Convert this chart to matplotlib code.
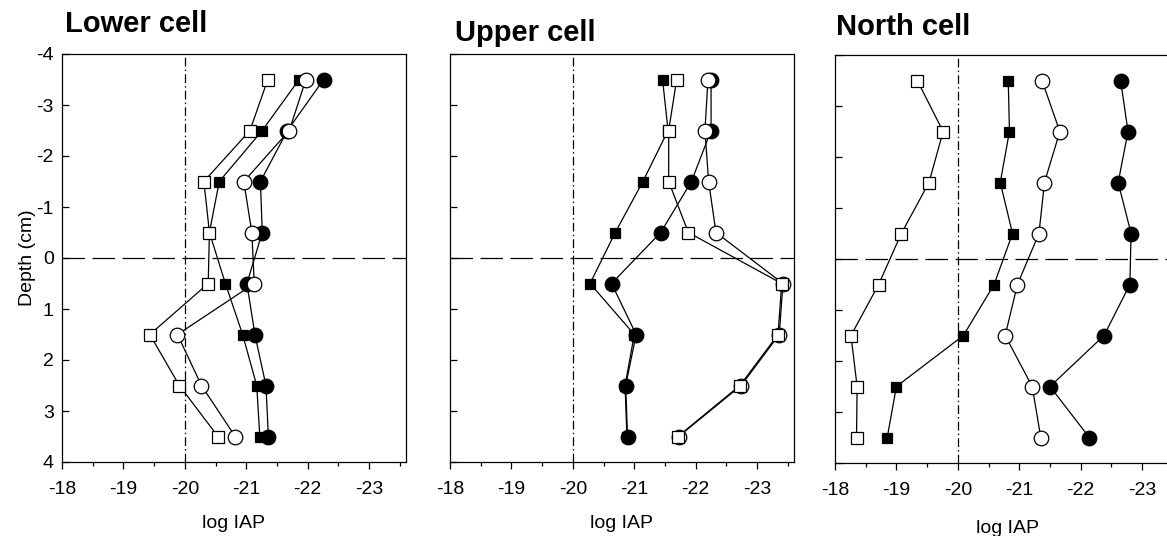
import matplotlib
matplotlib.use("Agg")
import matplotlib.pyplot as plt
from matplotlib.ticker import MultipleLocator

plt.rcParams['font.family'] = ['Liberation Sans', 'DejaVu Sans']
plt.rcParams['axes.unicode_minus'] = False

depth = [-3.5, -2.5, -1.5, -0.5, 0.5, 1.5, 2.5, 3.5]

titles = ["Lower cell", "Upper cell", "North cell"]

# four series per cell: open square, filled square, open circle, filled circle
lower_open_sq = [-21.35, -21.06, -20.31, -20.40, -20.38, -19.43, -19.91, -20.54]
lower_fill_sq = [-21.86, -21.26, -20.56, -20.40, -20.66, -20.94, -21.17, -21.22]
lower_open_ci = [-21.97, -21.70, -20.96, -21.09, -21.13, -19.88, -20.27, -20.82]
lower_fill_ci = [-22.26, -21.67, -21.23, -21.26, -21.01, -21.14, -21.32, -21.36]

upper_open_sq = [-21.69, -21.56, -21.56, -21.88, -23.40, -23.34, -22.72, -21.71]
upper_fill_sq = [-21.46, -21.55, -21.14, -20.69, -20.28, -21.00, -20.85, -20.88]
upper_open_ci = [-22.20, -22.15, -22.21, -22.33, -23.42, -23.36, -22.74, -21.72]
upper_fill_ci = [-22.25, -22.25, -21.93, -21.43, -20.63, -21.03, -20.86, -20.89]

north_open_sq = [-19.34, -19.76, -19.53, -19.08, -18.71, -18.26, -18.36, -18.35]
north_fill_sq = [-20.82, -20.84, -20.69, -20.89, -20.59, -20.09, -19.00, -18.85]
north_open_ci = [-21.37, -21.66, -21.41, -21.32, -20.97, -20.77, -21.21, -21.35]
north_fill_ci = [-22.65, -22.77, -22.61, -22.82, -22.80, -22.38, -21.50, -22.14]

cells = [
    (lower_open_sq, lower_fill_sq, lower_open_ci, lower_fill_ci),
    (upper_open_sq, upper_fill_sq, upper_open_ci, upper_fill_ci),
    (north_open_sq, north_fill_sq, north_open_ci, north_fill_ci),
]

W, H = 1167, 536
fig = plt.figure(figsize=(W / 100, H / 100), dpi=100)

# axes boxes in pixels: left, top, right, bottom
boxes = [(62, 54, 406, 462), (450, 54, 794, 462), (835, 55, 1179, 463)]
title_pos = [(65, 24), (455, 33), (836, 27)]
xlabel_pad = [12, 12, 15]

for i, (cell, box) in enumerate(zip(cells, boxes)):
    l, t, r, b = box
    ax = fig.add_axes([l / W, 1 - b / H, (r - l) / W, (b - t) / H])
    open_sq, fill_sq, open_ci, fill_ci = cell

    ax.axhline(0, color='black', lw=0.9, dashes=(18, 6), zorder=1)
    ax.axvline(-20, color='black', lw=0.9, dashes=(7, 2.5, 1.2, 2.5), zorder=1)

    ax.plot(fill_sq, depth, '-s', color='black', mfc='black', mec='black',
            ms=7.5, lw=0.9, mew=0.9, zorder=2)
    ax.plot(fill_ci, depth, '-o', color='black', mfc='black', mec='black',
            ms=10.5, lw=0.9, mew=0.9, zorder=3)
    ax.plot(open_ci, depth, '-o', color='black', mfc='white', mec='black',
            ms=10.5, lw=0.9, mew=0.9, zorder=4)
    ax.plot(open_sq, depth, '-s', color='black', mfc='white', mec='black',
            ms=8.5, lw=0.9, mew=0.9, zorder=5)

    ax.set_xlim(-18, -23.6)
    ax.set_ylim(4, -4)
    ax.xaxis.set_major_locator(MultipleLocator(1))
    ax.xaxis.set_minor_locator(MultipleLocator(0.5))
    ax.yaxis.set_major_locator(MultipleLocator(1))
    ax.tick_params(axis='x', which='major', direction='out', length=5,
                   width=0.9, labelsize=14, pad=9)
    ax.tick_params(axis='x', which='minor', direction='out', length=3, width=0.9)
    ax.tick_params(axis='y', which='major', direction='in', length=5,
                   width=0.9, labelsize=14, pad=6)
    for s in ax.spines.values():
        s.set_linewidth(0.9)

    ax.set_xlabel("log IAP", fontsize=14, labelpad=xlabel_pad[i])
    if i == 0:
        ax.set_ylabel("Depth (cm)", fontsize=14, labelpad=0)
    else:
        ax.set_yticklabels([])

    tx, ty = title_pos[i]
    fig.text(tx / W, 1 - ty / H, titles[i], fontsize=21, fontweight='bold',
             ha='left', va='center')

fig.savefig("out.png", dpi=100)
